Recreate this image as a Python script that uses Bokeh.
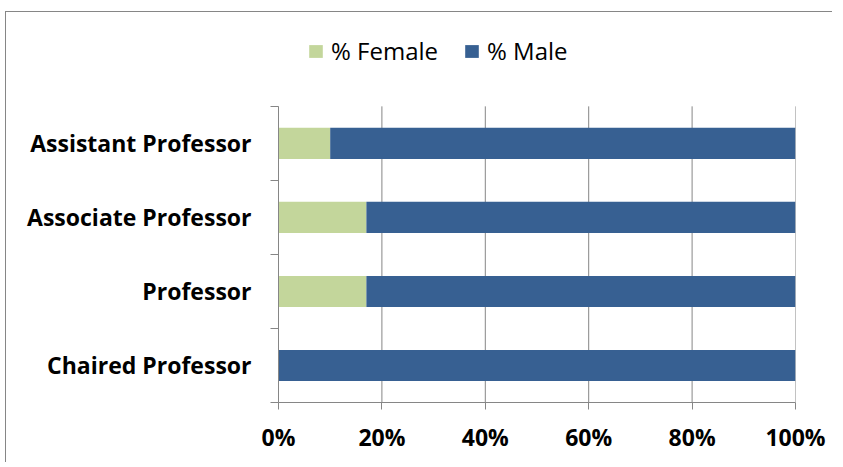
from bokeh.plotting import figure
from bokeh.models import ColumnDataSource, FixedTicker, PrintfTickFormatter, Range1d, Legend
from bokeh.embed import file_html
from bokeh.resources import INLINE

# Data (bottom to top)
categories = ["Chaired Professor", "Professor", "Associate Professor", "Assistant Professor"]
female_pct = [0, 17, 17, 10]
male_pct = [100, 83, 83, 90]
x_ticks = [0, 20, 40, 60, 80, 100]

GREEN = "#c3d69b"
BLUE = "#376092"
GRAY = "#868686"
FONT = "Open Sans"

n = len(categories)
ypos = [i + 0.5 for i in range(n)]
source = ColumnDataSource(dict(y=ypos, female=female_pct, male=male_pct, cat=categories))

# extra headroom above the bars holds the legend
p = figure(width=827, height=451, output_backend="svg", toolbar_location=None,
           x_range=Range1d(0, 100), y_range=Range1d(0, n + 1.2),
           min_border_left=272, min_border_right=38, min_border_top=5, min_border_bottom=61)

# vertical gridlines limited to the category area
grid_src = ColumnDataSource(dict(x=x_ticks, y0=[0] * len(x_ticks), y1=[n] * len(x_ticks)))
p.segment(x0="x", y0="y0", x1="x", y1="y1", line_color=GRAY, line_width=1, source=grid_src)

renderers = p.hbar_stack(["female", "male"], y="y", height=0.42, color=[GREEN, BLUE],
                         line_color=None, source=source)

legend = Legend(items=[("% Female", [renderers[0]]), ("% Male", [renderers[1]])],
                orientation="horizontal", location=(29, 335))
legend.border_line_color = None
legend.background_fill_alpha = 0
legend.padding = 0
legend.margin = 0
legend.spacing = 25
legend.label_standoff = 7
legend.glyph_width = 17
legend.glyph_height = 16
legend.label_text_font = FONT
legend.label_text_font_size = "24px"
legend.label_text_color = "black"
p.add_layout(legend, "center")

# X axis
p.xaxis.ticker = FixedTicker(ticks=x_ticks)
p.xaxis.formatter = PrintfTickFormatter(format="%d%%")
p.xaxis.major_label_text_font = FONT
p.xaxis.major_label_text_font_size = "23px"
p.xaxis.major_label_text_font_style = "bold"
p.xaxis.major_label_text_color = "black"
p.xaxis.major_tick_out = 7
p.xaxis.major_tick_in = 0
p.xaxis.minor_tick_line_color = None
p.xaxis.axis_line_color = GRAY
p.xaxis.major_tick_line_color = GRAY
p.xaxis.major_label_standoff = 11

# Y axis: labels at centres, ticks at boundaries
p.yaxis.ticker = FixedTicker(ticks=ypos, minor_ticks=list(range(n + 1)))
p.yaxis.major_label_overrides = {y: c for y, c in zip(ypos, categories)}
p.yaxis.bounds = (0, n)
p.yaxis.major_label_text_font = FONT
p.yaxis.major_label_text_font_size = "23px"
p.yaxis.major_label_text_font_style = "bold"
p.yaxis.major_label_text_color = "black"
p.yaxis.major_tick_out = 0
p.yaxis.major_tick_in = 0
p.yaxis.minor_tick_out = 8
p.yaxis.minor_tick_in = 0
p.yaxis.minor_tick_line_color = GRAY
p.yaxis.axis_line_color = GRAY
p.yaxis.major_label_standoff = 19

p.xgrid.grid_line_color = None
p.ygrid.grid_line_color = None
p.outline_line_color = None

p.styles = {"border-left": "1px solid #868686", "border-top": "1px solid #868686",
            "margin-left": "5px", "margin-top": "11px"}

open("out.html", "w").write(file_html(p, INLINE))
